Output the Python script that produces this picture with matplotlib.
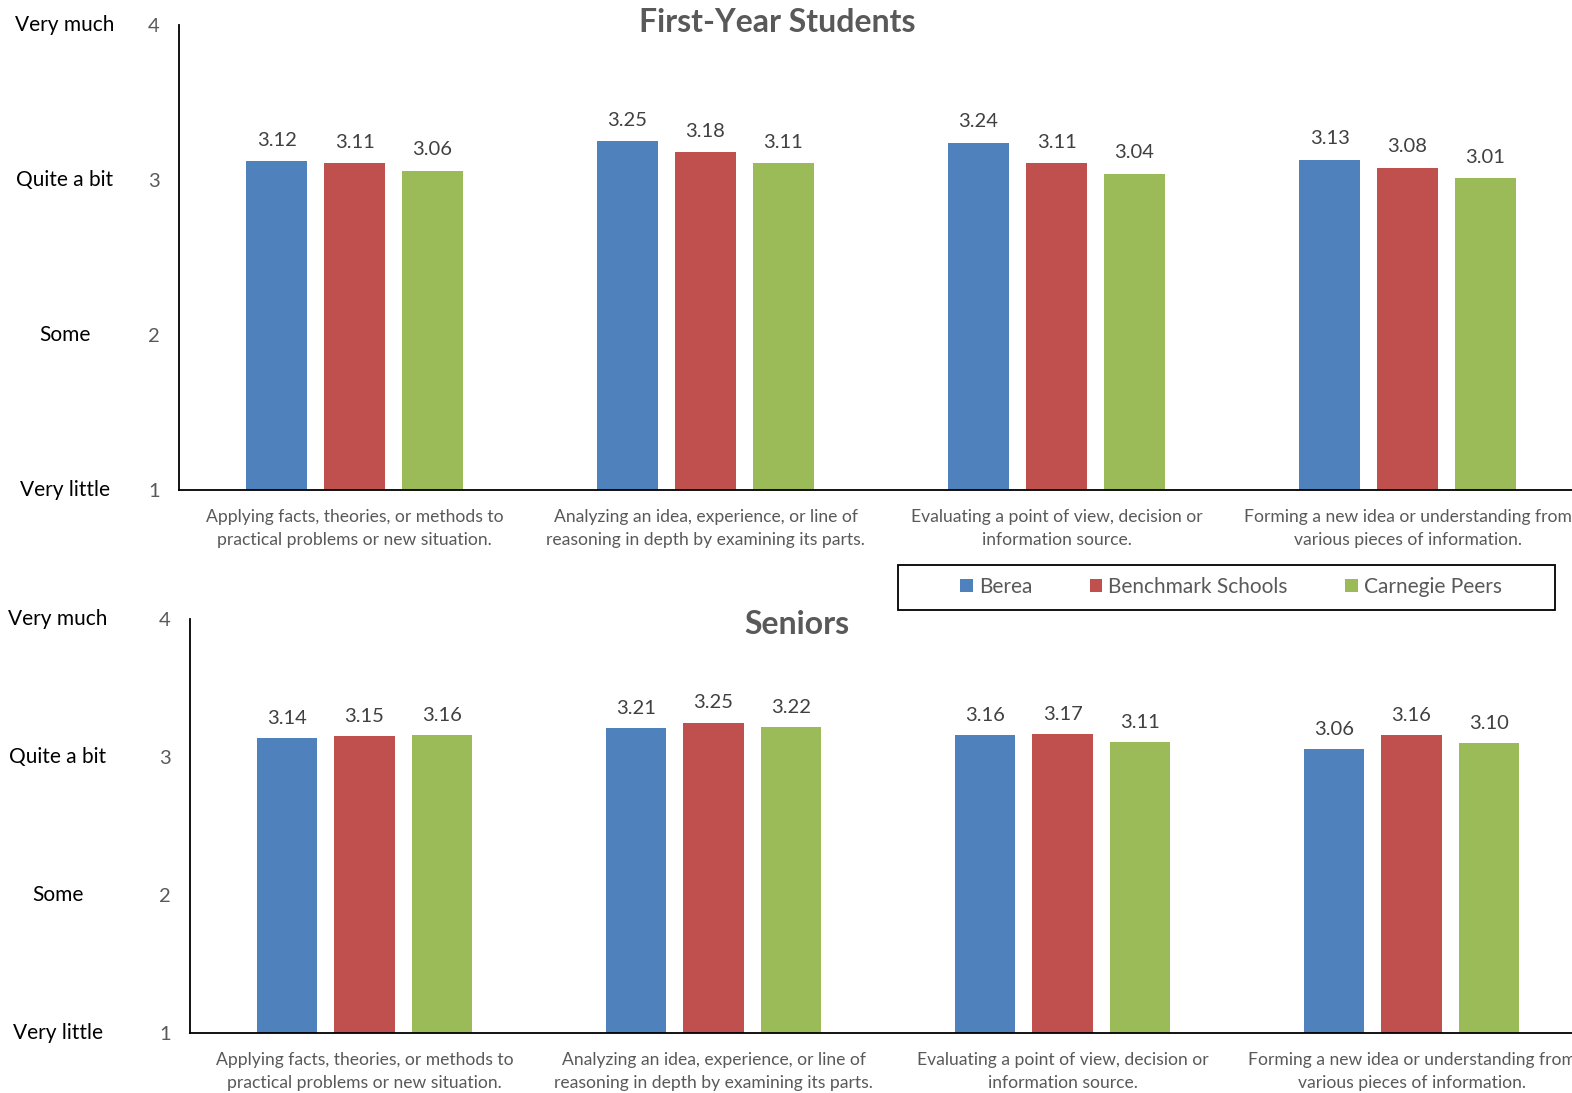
import numpy as np
import matplotlib
matplotlib.use("agg")
import matplotlib.pyplot as plt
from matplotlib.patches import Rectangle
from matplotlib.transforms import blended_transform_factory

plt.rcParams["font.family"] = ["Lato", "DejaVu Sans"]

# data
categories = [
    "Applying facts, theories, or methods to\npractical problems or new situation.",
    "Analyzing an idea, experience, or line of\nreasoning in depth by examining its parts.",
    "Evaluating a point of view, decision or\ninformation source.",
    "Forming a new idea or understanding from\nvarious pieces of information.",
]
series_names = ["Berea", "Benchmark Schools", "Carnegie Peers"]
first_year_berea = [3.12, 3.25, 3.24, 3.13]
first_year_bench = [3.11, 3.18, 3.11, 3.08]
first_year_carn = [3.06, 3.11, 3.04, 3.01]
senior_berea = [3.14, 3.21, 3.16, 3.06]
senior_bench = [3.15, 3.25, 3.17, 3.16]
senior_carn = [3.16, 3.22, 3.11, 3.10]
scale_ticks = [1, 2, 3, 4]
scale_labels = ["Very little", "Some", "Quite a bit", "Very much"]

colors = ["#4F81BD", "#C0504D", "#9BBB59"]
grey = "#595959"

fig = plt.figure(figsize=(15.72, 10.93), dpi=100)

ax_top = fig.add_axes([179 / 1572, 1 - 490 / 1093, 4 * 351 / 1572, (490 - 25) / 1093])
ax_bot = fig.add_axes([190 / 1572, 1 - 1033 / 1093, 4 * 349 / 1572, (1033 - 619) / 1093])


def draw_panel(ax, series, label_x, title, title_x, title_y):
    x = np.arange(len(categories)) + 0.5
    width = 0.174
    step = 0.222
    for i, vals in enumerate(series):
        bars = ax.bar(x + (i - 1) * step, np.array(vals) - 1, bottom=1,
                      width=width, color=colors[i], label=series_names[i])
        for b, v in zip(bars, vals):
            ax.text(b.get_x() + b.get_width() / 2, v + 0.08, f"{v:.2f}",
                    ha="center", va="bottom", fontsize=14.5, color="#404040")
    ax.set_xlim(0, len(categories))
    ax.set_ylim(1, 4)
    ax.set_yticks(scale_ticks)
    ax.set_yticklabels([str(t) for t in scale_ticks], fontsize=14.5, color=grey)
    ax.tick_params(axis="y", length=0, pad=14)
    ax.set_xticks(x)
    ax.set_xticklabels(categories, fontsize=12.6, color=grey, linespacing=1.5)
    ax.tick_params(axis="x", length=0, pad=14)
    for s in ["top", "right"]:
        ax.spines[s].set_visible(False)
    for s in ["left", "bottom"]:
        ax.spines[s].set_linewidth(1.3)
        ax.spines[s].set_color("black")
    trans = blended_transform_factory(fig.transFigure, ax.transData)
    for t, lab in zip(scale_ticks, scale_labels):
        ax.text(label_x / 1572, t, lab, transform=trans, ha="center",
                va="center", fontsize=15, color="black")
    fig.text(title_x / 1572, 1 - title_y / 1093, title, ha="center",
             va="center", fontsize=23, fontweight="bold", color=grey)


draw_panel(ax_top, [first_year_berea, first_year_bench, first_year_carn],
           65, "First-Year Students", 777, 22)
draw_panel(ax_bot, [senior_berea, senior_bench, senior_carn],
           58, "Seniors", 797, 624)

# legend box
fig.patches.append(Rectangle((898 / 1572, 1 - 610 / 1093), (1555 - 898) / 1572,
                             45 / 1093, transform=fig.transFigure, fill=False,
                             edgecolor="black", linewidth=1.3))
leg = fig.legend(*ax_top.get_legend_handles_labels(), loc="center",
                 bbox_to_anchor=(1231 / 1572, 1 - 587 / 1093), ncol=3,
                 fontsize=15, frameon=False, handlelength=0.6,
                 handleheight=0.6, handletextpad=0.3, columnspacing=2.75)
for t in leg.get_texts():
    t.set_color(grey)

fig.savefig("out.png", dpi=100)
